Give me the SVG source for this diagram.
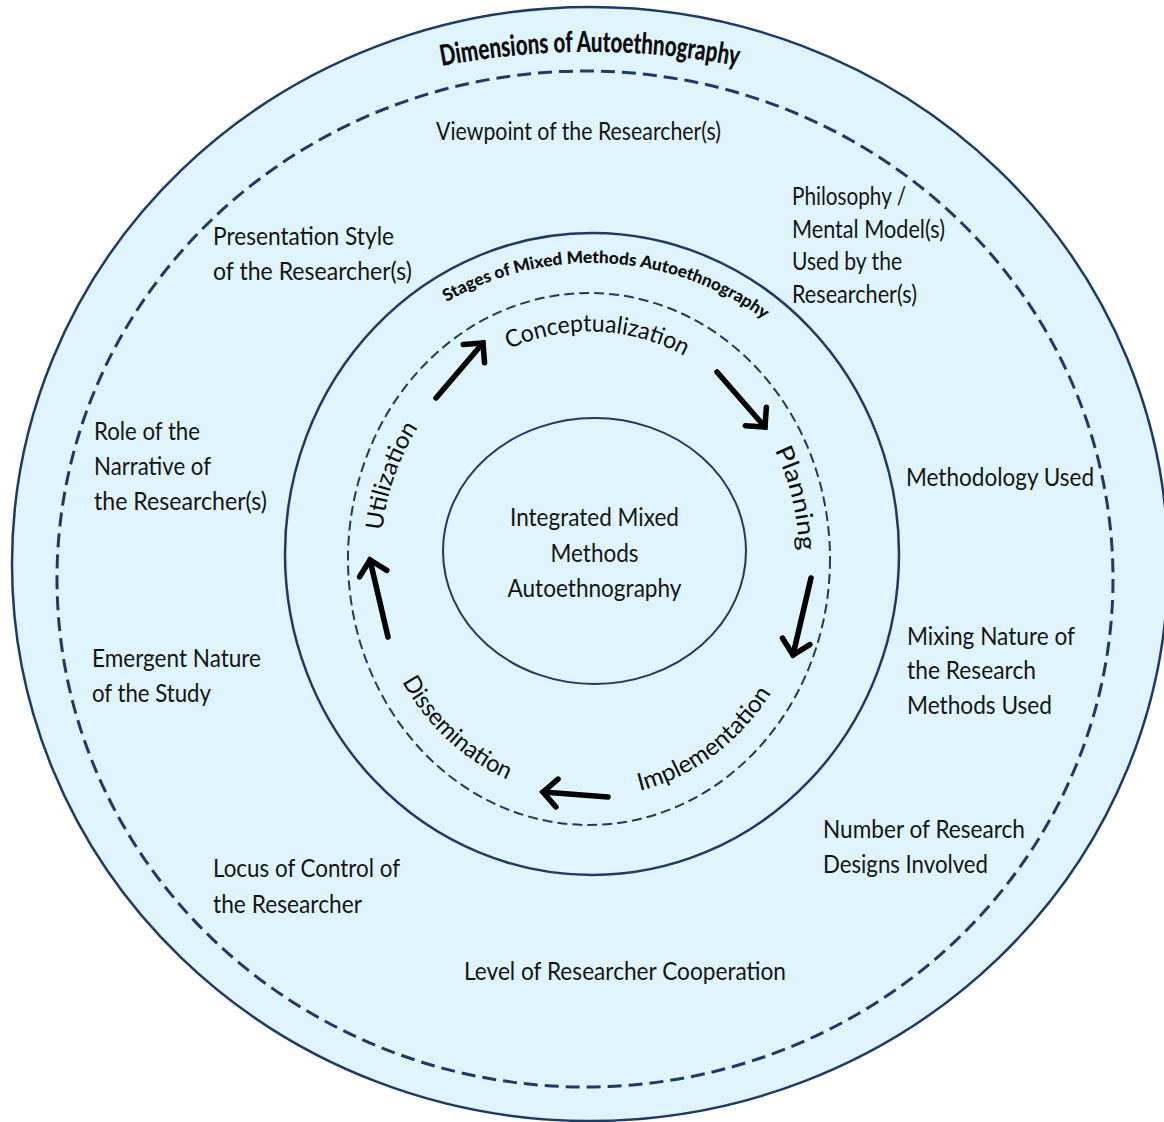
<svg xmlns="http://www.w3.org/2000/svg" xmlns:xlink="http://www.w3.org/1999/xlink" width="1164" height="1122" viewBox="0 0 1164 1122">
  <style>
    .ring { fill: #dff4fc; stroke: #1f3a63; }
    .solid { stroke-width: 2.5; }
    .dash-outer { fill: none; stroke: #1f3a63; stroke-width: 3; stroke-dasharray: 14 7; }
    .dash-inner { fill: none; stroke: #1f3a63; stroke-width: 2; stroke-dasharray: 10 5; }
    .lbl { font-family: Lato, "Open Sans", "Liberation Sans", sans-serif; font-size: 25px; fill: #141414; }
    .stage { font-family: Lato, "Open Sans", "Liberation Sans", sans-serif; font-size: 24px; fill: #0d0d0d; }
    .title { font-family: Lato, "Open Sans", "Liberation Sans", sans-serif; font-weight: 900; fill: #0d0d0d; }
    .arrow { stroke: #000; stroke-width: 5.5; fill: none; stroke-linecap: round; marker-end: url(#chev); }
  </style>
  <defs>
    <marker id="chev" markerUnits="userSpaceOnUse" viewBox="-20 -20 30 40" markerWidth="30" markerHeight="40" refX="0" refY="0" orient="auto" overflow="visible">
      <path d="M-14,-14 L0,0 L-14,14" fill="none" stroke="#000" stroke-width="5.5" stroke-linecap="round" stroke-linejoin="miter"/>
    </marker>
    <!-- baselines for curved headings -->
    <path id="p-dim" d="M323.2,99 A780,780 0 0 1 856.8,99"/>
    <path id="p-stages" d="M340,408.5 A291,291 0 0 1 844,408.5"/>
    <!-- baselines for the stage names, clockwise on top/sides, anticlockwise at the bottom -->
    <path id="p-concept" d="M455.7,384.3 A209,226 0 0 1 735.2,395"/>
    <path id="p-plan" d="M737.8,395.8 A209,228 0 0 1 791.9,616"/>
    <path id="p-util" d="M383.6,592.7 A209,228 0 0 1 458.5,379.8"/>
    <path id="p-diss" d="M383.3,639.1 A220,240 0 0 0 551.8,793.4"/>
    <path id="p-impl" d="M605.4,796.4 A220,240 0 0 0 787.7,662.2"/>
  </defs>

  <!-- outer ring: dimensions -->
  <g id="dimensions-ring">
    <ellipse class="ring solid" cx="590" cy="564" rx="578" ry="557"/>
    <ellipse class="dash-outer" cx="585" cy="579" rx="528" ry="508"/>
    <text class="title" font-size="29"><textPath xlink:href="#p-dim" href="#p-dim" startOffset="50%" text-anchor="middle" textLength="298" lengthAdjust="spacingAndGlyphs">Dimensions of Autoethnography</textPath></text>
  </g>

  <!-- middle ring: stages -->
  <g id="stages-ring">
    <ellipse class="ring solid" cx="592" cy="554" rx="307" ry="321"/>
    <ellipse class="dash-inner" cx="589" cy="559" rx="241" ry="266"/>
    <text class="title" font-size="17"><textPath xlink:href="#p-stages" href="#p-stages" startOffset="320.5" text-anchor="middle" textLength="336" lengthAdjust="spacingAndGlyphs">Stages of Mixed Methods Autoethnography</textPath></text>
  </g>

  <!-- core -->
  <g id="core">
    <ellipse class="ring" cx="594.5" cy="551" rx="151.5" ry="133" stroke-width="2"/>
    <text class="lbl" x="594.5" y="526" text-anchor="middle" textLength="169" lengthAdjust="spacingAndGlyphs">Integrated Mixed</text>
    <text class="lbl" x="594.5" y="562" text-anchor="middle" textLength="88" lengthAdjust="spacingAndGlyphs">Methods</text>
    <text class="lbl" x="594.5" y="597" text-anchor="middle" textLength="174" lengthAdjust="spacingAndGlyphs">Autoethnography</text>
  </g>

  <!-- stage names -->
  <g id="stage-conceptualization">
    <text class="stage"><textPath xlink:href="#p-concept" href="#p-concept" startOffset="50%" text-anchor="middle" textLength="182" lengthAdjust="spacingAndGlyphs">Conceptualization</textPath></text>
  </g>
  <g id="stage-planning">
    <text class="stage"><textPath xlink:href="#p-plan" href="#p-plan" startOffset="50%" text-anchor="middle" textLength="104" lengthAdjust="spacingAndGlyphs">Planning</textPath></text>
  </g>
  <g id="stage-implementation">
    <text class="stage"><textPath xlink:href="#p-impl" href="#p-impl" startOffset="50%" text-anchor="middle" textLength="168" lengthAdjust="spacingAndGlyphs">Implementation</textPath></text>
  </g>
  <g id="stage-dissemination">
    <text class="stage"><textPath xlink:href="#p-diss" href="#p-diss" startOffset="50%" text-anchor="middle" textLength="146" lengthAdjust="spacingAndGlyphs">Dissemination</textPath></text>
  </g>
  <g id="stage-utilization">
    <text class="stage"><textPath xlink:href="#p-util" href="#p-util" startOffset="50%" text-anchor="middle" textLength="110" lengthAdjust="spacingAndGlyphs">Utilization</textPath></text>
  </g>

  <!-- cycle arrows -->
  <g id="connectors">
    <line class="arrow" x1="436" y1="398" x2="483" y2="343"/>
    <line class="arrow" x1="717" y1="372" x2="765" y2="427"/>
    <line class="arrow" x1="811" y1="578" x2="793" y2="655"/>
    <line class="arrow" x1="608" y1="797" x2="543" y2="792"/>
    <line class="arrow" x1="388" y1="637" x2="370" y2="560"/>
  </g>

  <!-- dimension labels -->
  <g id="dim-viewpoint"><text class="lbl" x="436" y="140" textLength="285" lengthAdjust="spacingAndGlyphs">Viewpoint of the Researcher(s)</text></g>
  <g id="dim-presentation">
    <text class="lbl" x="213" y="245" textLength="181" lengthAdjust="spacingAndGlyphs">Presentation Style</text>
    <text class="lbl" x="213" y="280" textLength="199" lengthAdjust="spacingAndGlyphs">of the Researcher(s)</text>
  </g>
  <g id="dim-philosophy">
    <text class="lbl" x="792" y="205" textLength="114" lengthAdjust="spacingAndGlyphs">Philosophy /</text>
    <text class="lbl" x="792" y="238" textLength="153" lengthAdjust="spacingAndGlyphs">Mental Model(s)</text>
    <text class="lbl" x="792" y="270" textLength="110" lengthAdjust="spacingAndGlyphs">Used by the</text>
    <text class="lbl" x="792" y="303" textLength="125" lengthAdjust="spacingAndGlyphs">Researcher(s)</text>
  </g>
  <g id="dim-narrative">
    <text class="lbl" x="94" y="440" textLength="106" lengthAdjust="spacingAndGlyphs">Role of the</text>
    <text class="lbl" x="94" y="475" textLength="117" lengthAdjust="spacingAndGlyphs">Narrative of</text>
    <text class="lbl" x="94" y="510" textLength="173" lengthAdjust="spacingAndGlyphs">the Researcher(s)</text>
  </g>
  <g id="dim-methodology"><text class="lbl" x="906" y="486" textLength="188" lengthAdjust="spacingAndGlyphs">Methodology Used</text></g>
  <g id="dim-mixing">
    <text class="lbl" x="907" y="645" textLength="168" lengthAdjust="spacingAndGlyphs">Mixing Nature of</text>
    <text class="lbl" x="907" y="679" textLength="129" lengthAdjust="spacingAndGlyphs">the Research</text>
    <text class="lbl" x="907" y="714" textLength="145" lengthAdjust="spacingAndGlyphs">Methods Used</text>
  </g>
  <g id="dim-emergent">
    <text class="lbl" x="92" y="667" textLength="169" lengthAdjust="spacingAndGlyphs">Emergent Nature</text>
    <text class="lbl" x="92" y="702" textLength="119" lengthAdjust="spacingAndGlyphs">of the Study</text>
  </g>
  <g id="dim-designs">
    <text class="lbl" x="823" y="838" textLength="202" lengthAdjust="spacingAndGlyphs">Number of Research</text>
    <text class="lbl" x="823" y="873" textLength="165" lengthAdjust="spacingAndGlyphs">Designs Involved</text>
  </g>
  <g id="dim-locus">
    <text class="lbl" x="213" y="877" textLength="187" lengthAdjust="spacingAndGlyphs">Locus of Control of</text>
    <text class="lbl" x="213" y="913" textLength="149" lengthAdjust="spacingAndGlyphs">the Researcher</text>
  </g>
  <g id="dim-cooperation"><text class="lbl" x="464" y="980" textLength="322" lengthAdjust="spacingAndGlyphs">Level of Researcher Cooperation</text></g>
</svg>
